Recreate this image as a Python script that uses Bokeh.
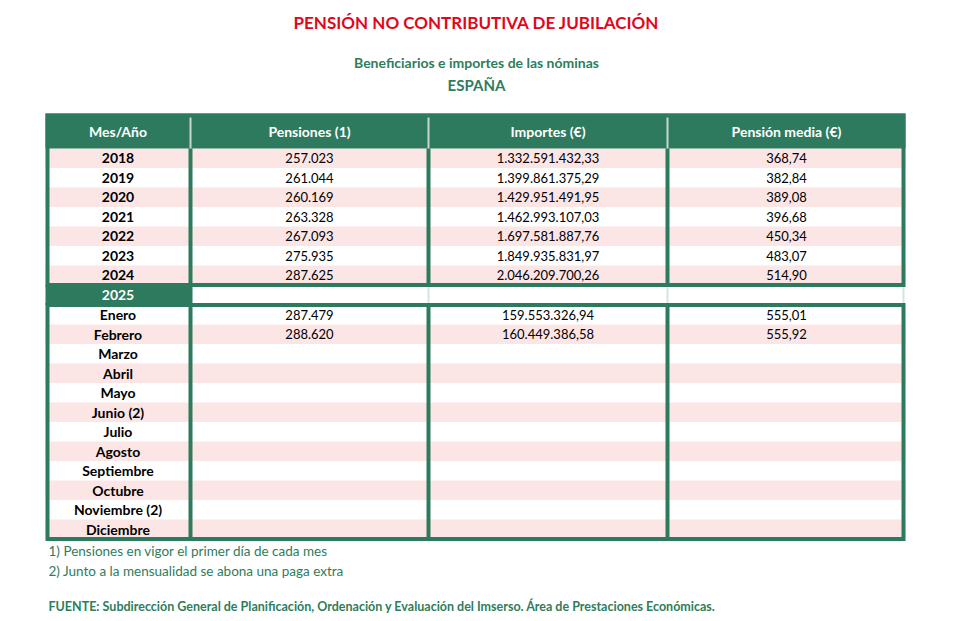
from bokeh.plotting import figure
from bokeh.models import Range1d, ColumnDataSource
from bokeh.core.properties import value
from bokeh.embed import file_html
from bokeh.resources import INLINE

# ---------------- data ----------------
title = "PENSIÓN NO CONTRIBUTIVA DE JUBILACIÓN"
subtitle = "Beneficiarios e importes de las nóminas"
region = "ESPAÑA"
headers = ["Mes/Año", "Pensiones (1)", "Importes (€)", "Pensión media (€)"]

years = ["2018", "2019", "2020", "2021", "2022", "2023", "2024"]
pensiones_anual = [257023, 261044, 260169, 263328, 267093, 275935, 287625]
importes_anual = [1332591432.33, 1399861375.29, 1429951491.95, 1462993107.03,
                  1697581887.76, 1849935831.97, 2046209700.26]
media_anual = [368.74, 382.84, 389.08, 396.68, 450.34, 483.07, 514.90]

current_year = "2025"
months = ["Enero", "Febrero", "Marzo", "Abril", "Mayo", "Junio (2)", "Julio",
          "Agosto", "Septiembre", "Octubre", "Noviembre (2)", "Diciembre"]
pensiones_mes = [287479, 288620]
importes_mes = [159553326.94, 160449386.58]
media_mes = [555.01, 555.92]

notes = ["1) Pensiones en vigor el primer día de cada mes",
         "2) Junto a la mensualidad se abona una paga extra"]
source = ("FUENTE: Subdirección General de Planificación, Ordenación y Evaluación "
          "del Imserso. Área de Prestaciones Económicas.")

# ---------------- style / layout ----------------
GREEN = "#2E7A5E"
LIGHT = "#D3E6DA"
PINK = "#FCE5E5"
RED = "#E1061B"
TXTGREEN = "#2E7D5C"
FONT = value("Lato")

W, H = 949, 619
X0, X1 = 45, 905
COLS = [45, 190, 428, 667, 905]
HEAD_T, HEAD_B = 113, 148
RH = 19.5
TOP_B = HEAD_B + RH * len(years)          # bottom of yearly block
BOT_T = TOP_B + 20                          # top of monthly block
BOT_B = BOT_T + RH * len(months)
centers = [(COLS[i] + COLS[i + 1]) / 2 for i in range(4)]


def es(v, dec):
    s = f"{v:,.{dec}f}"
    return s.replace(",", "X").replace(".", ",").replace("X", ".")


p = figure(width=W, height=H, output_backend="svg", toolbar_location=None,
           x_range=Range1d(0, W), y_range=Range1d(H, 0),
           min_border=0)
p.axis.visible = False
p.grid.visible = False
p.outline_line_color = None
p.background_fill_color = "white"
p.border_fill_color = "white"

# ---------- row backgrounds ----------
bl, br, bt, bb, bc = [], [], [], [], []
for i in range(len(years)):
    t = HEAD_B + i * RH
    bl.append(X0); br.append(X1); bt.append(t); bb.append(t + RH)
    bc.append(PINK if i % 2 == 0 else "white")
for j in range(len(months)):
    t = BOT_T + j * RH
    bl.append(X0); br.append(X1); bt.append(t); bb.append(t + RH)
    bc.append(PINK if j % 2 == 1 else "white")
p.quad(left=bl, right=br, top=bt, bottom=bb, fill_color=bc, line_color=None)

# header band and 2025 cell
p.quad(left=[X0], right=[X1], top=[HEAD_T], bottom=[HEAD_B], fill_color=GREEN, line_color=None)
p.quad(left=[X0], right=[COLS[1] + 2], top=[TOP_B], bottom=[BOT_T], fill_color=GREEN, line_color=None)

# light dividers (header and 2025 row)
p.segment(x0=COLS[1:4], x1=COLS[1:4], y0=[HEAD_T + 2] * 3, y1=[HEAD_B] * 3,
          line_color="#C9D6CF", line_width=2)
p.segment(x0=[COLS[2], COLS[3], X1 - 2], x1=[COLS[2], COLS[3], X1 - 2],
          y0=[TOP_B] * 3, y1=[BOT_T] * 3, line_color=LIGHT, line_width=2)

# thick borders
p.quad(left=[X0 + 2, X0 + 2], right=[X1 - 2, X1 - 2], top=[HEAD_T + 2, BOT_T],
       bottom=[TOP_B, BOT_B], fill_alpha=0, line_color=GREEN, line_width=4,
       line_join="miter")
p.segment(x0=COLS[1:4] * 2, x1=COLS[1:4] * 2,
          y0=[HEAD_B] * 3 + [BOT_T] * 3, y1=[TOP_B] * 3 + [BOT_B] * 3,
          line_color=GREEN, line_width=4)

# ---------- texts ----------
common = dict(text_font=FONT, text_align="center", text_baseline="middle")

p.text(x=centers, y=[(HEAD_T + HEAD_B) / 2] * 4, text=headers,
       text_color="white", text_font_style="bold", text_font_size="14px", **common)

ycen = [HEAD_B + (i + 0.5) * RH for i in range(len(years))]
p.text(x=[centers[0]] * len(years), y=ycen, text=years, text_color="black",
       text_font_style="bold", text_font_size="14px", **common)
vals = ColumnDataSource(dict(
    x=[centers[1]] * 7 + [centers[2]] * 7 + [centers[3]] * 7,
    y=ycen * 3,
    t=[es(v, 0) for v in pensiones_anual] + [es(v, 2) for v in importes_anual]
      + [es(v, 2) for v in media_anual]))
p.text(x="x", y="y", text="t", source=vals, text_color="black",
       text_font_size="13px", **common)

p.text(x=[centers[0]], y=[(TOP_B + BOT_T) / 2], text=[current_year],
       text_color="white", text_font_style="bold", text_font_size="14px", **common)

mcen = [BOT_T + (j + 0.5) * RH for j in range(len(months))]
p.text(x=[centers[0]] * len(months), y=mcen, text=months, text_color="black",
       text_font_style="bold", text_font_size="14px", **common)
n = len(pensiones_mes)
mvals = ColumnDataSource(dict(
    x=[centers[1]] * n + [centers[2]] * n + [centers[3]] * n,
    y=mcen[:n] * 3,
    t=[es(v, 0) for v in pensiones_mes] + [es(v, 2) for v in importes_mes]
      + [es(v, 2) for v in media_mes]))
p.text(x="x", y="y", text="t", source=mvals, text_color="black",
       text_font_size="13px", **common)

# titles
p.text(x=[476], y=[22], text=[title], text_color=RED, text_font_style="bold",
       text_font_size="17px", **common)
p.text(x=[476], y=[62], text=[subtitle], text_color=TXTGREEN, text_font_style="bold",
       text_font_size="14px", **common)
p.text(x=[476], y=[84], text=[region], text_color=TXTGREEN, text_font_style="bold",
       text_font_size="15px", **common)

# notes
p.text(x=[48, 48], y=[550, 570], text=notes, text_color=TXTGREEN,
       text_font=FONT, text_font_size="13.5px", text_align="left", text_baseline="middle")
p.text(x=[48], y=[606], text=[source], text_color=TXTGREEN, text_font=FONT,
       text_font_style="bold", text_font_size="12.5px", text_align="left",
       text_baseline="middle")

open("out.html", "w").write(file_html(p, INLINE))
